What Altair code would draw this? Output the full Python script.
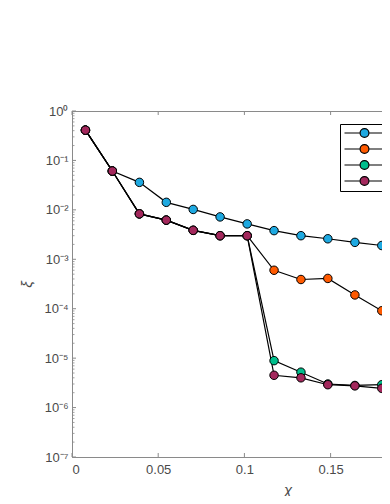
import altair as alt
import pandas as pd

# ---- data ----
chi = [0.0078, 0.0234, 0.0391, 0.0547, 0.0703, 0.0859, 0.1016,
       0.1172, 0.1328, 0.1484, 0.1641, 0.1797, 0.1953]

series_names = ["0.1", "0.2", "0.3", "0.4"]
series_colors = ["#1EA9E1", "#FF5A00", "#00BE8C", "#A3285C"]

xi_1 = [0.41, 0.061, 0.036, 0.0142, 0.0102, 0.0072, 0.0052,
        0.0038, 0.0030, 0.0026, 0.0022, 0.0019, 0.0016]
xi_2 = [0.41, 0.061, 0.0083, 0.0062, 0.00385, 0.0030, 0.0030,
        0.00060, 0.00039, 0.00041, 0.00019, 0.000091, 0.000050]
xi_3 = [0.41, 0.061, 0.0083, 0.0062, 0.00385, 0.0030, 0.0030,
        8.9e-6, 5.2e-6, 3.0e-6, 2.8e-6, 2.9e-6, 2.8e-6]
xi_4 = [0.41, 0.061, 0.0083, 0.0062, 0.00385, 0.0030, 0.0030,
        4.5e-6, 4.0e-6, 2.9e-6, 2.75e-6, 2.45e-6, 2.4e-6]

x_labels = [0, 0.05, 0.1, 0.15]
x_ticks = [0, 0.05, 0.1, 0.15, 0.2, 0.25]
y_ticks = [1e-7, 1e-6, 1e-5, 1e-4, 1e-3, 1e-2, 1e-1, 1]
y_minor = [k * e for e in [1e-7, 1e-6, 1e-5, 1e-4, 1e-3, 1e-2, 1e-1] for k in range(2, 10)]

rows = []
for name, vals in zip(series_names, [xi_1, xi_2, xi_3, xi_4]):
    for x, v in zip(chi, vals):
        rows.append({"chi": x, "xi": v, "series": name})
df = pd.DataFrame(rows)

W, H = 431, 346
AX = "#8a8a8a"
LBL = "#4a4a4a"

xscale = alt.Scale(domain=[0, 0.25], nice=False, zero=False)
yscale = alt.Scale(type="log", domain=[1e-7, 1], nice=False)

sup = "['\u207b\u2077','\u207b\u2076','\u207b\u2075','\u207b\u2074','\u207b\u00b3','\u207b\u00b2','\u207b\u00b9','\u2070']"

xaxis = alt.Axis(values=x_labels, format="~g", tickSize=0, grid=False,
                 domainColor=AX, labelColor=LBL, labelFontSize=13, labelPadding=6,
                 title="\u03c7", titleFontStyle="italic", titleFontWeight="normal",
                 titleFontSize=15, titleColor=LBL, titlePadding=6)
yaxis = alt.Axis(values=y_ticks, tickSize=0, grid=False,
                 labelExpr="'10' + " + sup + "[round(log(datum.value)/LN10)+7]",
                 domainColor=AX, labelColor=LBL, labelFontSize=13, labelPadding=4,
                 title="\u03be", titleFontStyle="italic", titleFontWeight="normal",
                 titleFontSize=15, titleColor=LBL, titlePadding=9)

legend_path = ("M-5,0L-1.1,0M1.1,0L5,0"
               "M-1.1,0A1.1,1.1,0,1,1,1.1,0A1.1,1.1,0,1,1,-1.1,0Z")

lines = alt.Chart(df).mark_line(color="black", strokeWidth=1.2).encode(
    x=alt.X("chi:Q", scale=xscale, axis=xaxis),
    y=alt.Y("xi:Q", scale=yscale, axis=yaxis),
    detail="series:N",
)

points = alt.Chart(df).mark_point(filled=True, size=72, stroke="black",
                                  strokeWidth=1, opacity=1).encode(
    x=alt.X("chi:Q", scale=xscale),
    y=alt.Y("xi:Q", scale=yscale),
    color=alt.Color("series:N",
                    scale=alt.Scale(domain=series_names, range=series_colors),
                    legend=alt.Legend(orient="none", legendX=268, legendY=13,
                                      title=None, symbolType=legend_path,
                                      symbolSize=64, symbolStrokeColor="black",
                                      symbolStrokeWidth=1.2, symbolOpacity=1,
                                      symbolOffset=15.5, labelOffset=36,
                                      labelFontSize=12, labelColor="black",
                                      padding=3, rowPadding=2,
                                      strokeColor="black", fillColor="white")),
)

ytick_df = pd.DataFrame({"v": y_ticks})
yminor_df = pd.DataFrame({"v": y_minor})
xtick_df = pd.DataFrame({"v": x_ticks})

ymaj = alt.Chart(ytick_df).mark_rule(color=AX, strokeWidth=1).encode(
    y=alt.Y("v:Q", scale=yscale), x=alt.value(0), x2=alt.value(4))
ymin = alt.Chart(yminor_df).mark_rule(color=AX, strokeWidth=0.8).encode(
    y=alt.Y("v:Q", scale=yscale), x=alt.value(0), x2=alt.value(2.5))
xbot = alt.Chart(xtick_df).mark_rule(color=AX, strokeWidth=1).encode(
    x=alt.X("v:Q", scale=xscale), y=alt.value(H), y2=alt.value(H - 4))
xtop = alt.Chart(xtick_df).mark_rule(color=AX, strokeWidth=1).encode(
    x=alt.X("v:Q", scale=xscale), y=alt.value(0), y2=alt.value(4))

chart = alt.layer(ymaj, ymin, xbot, xtop, lines, points).properties(
    width=W, height=H,
    autosize=alt.AutoSizeParams(type="none"),
    padding={"left": 64, "top": 103, "right": -121, "bottom": 39},
).configure(font="Liberation Sans").configure_view(stroke=AX, strokeWidth=1)

chart.save("out.html", embed_options={"renderer": "svg", "actions": False})
